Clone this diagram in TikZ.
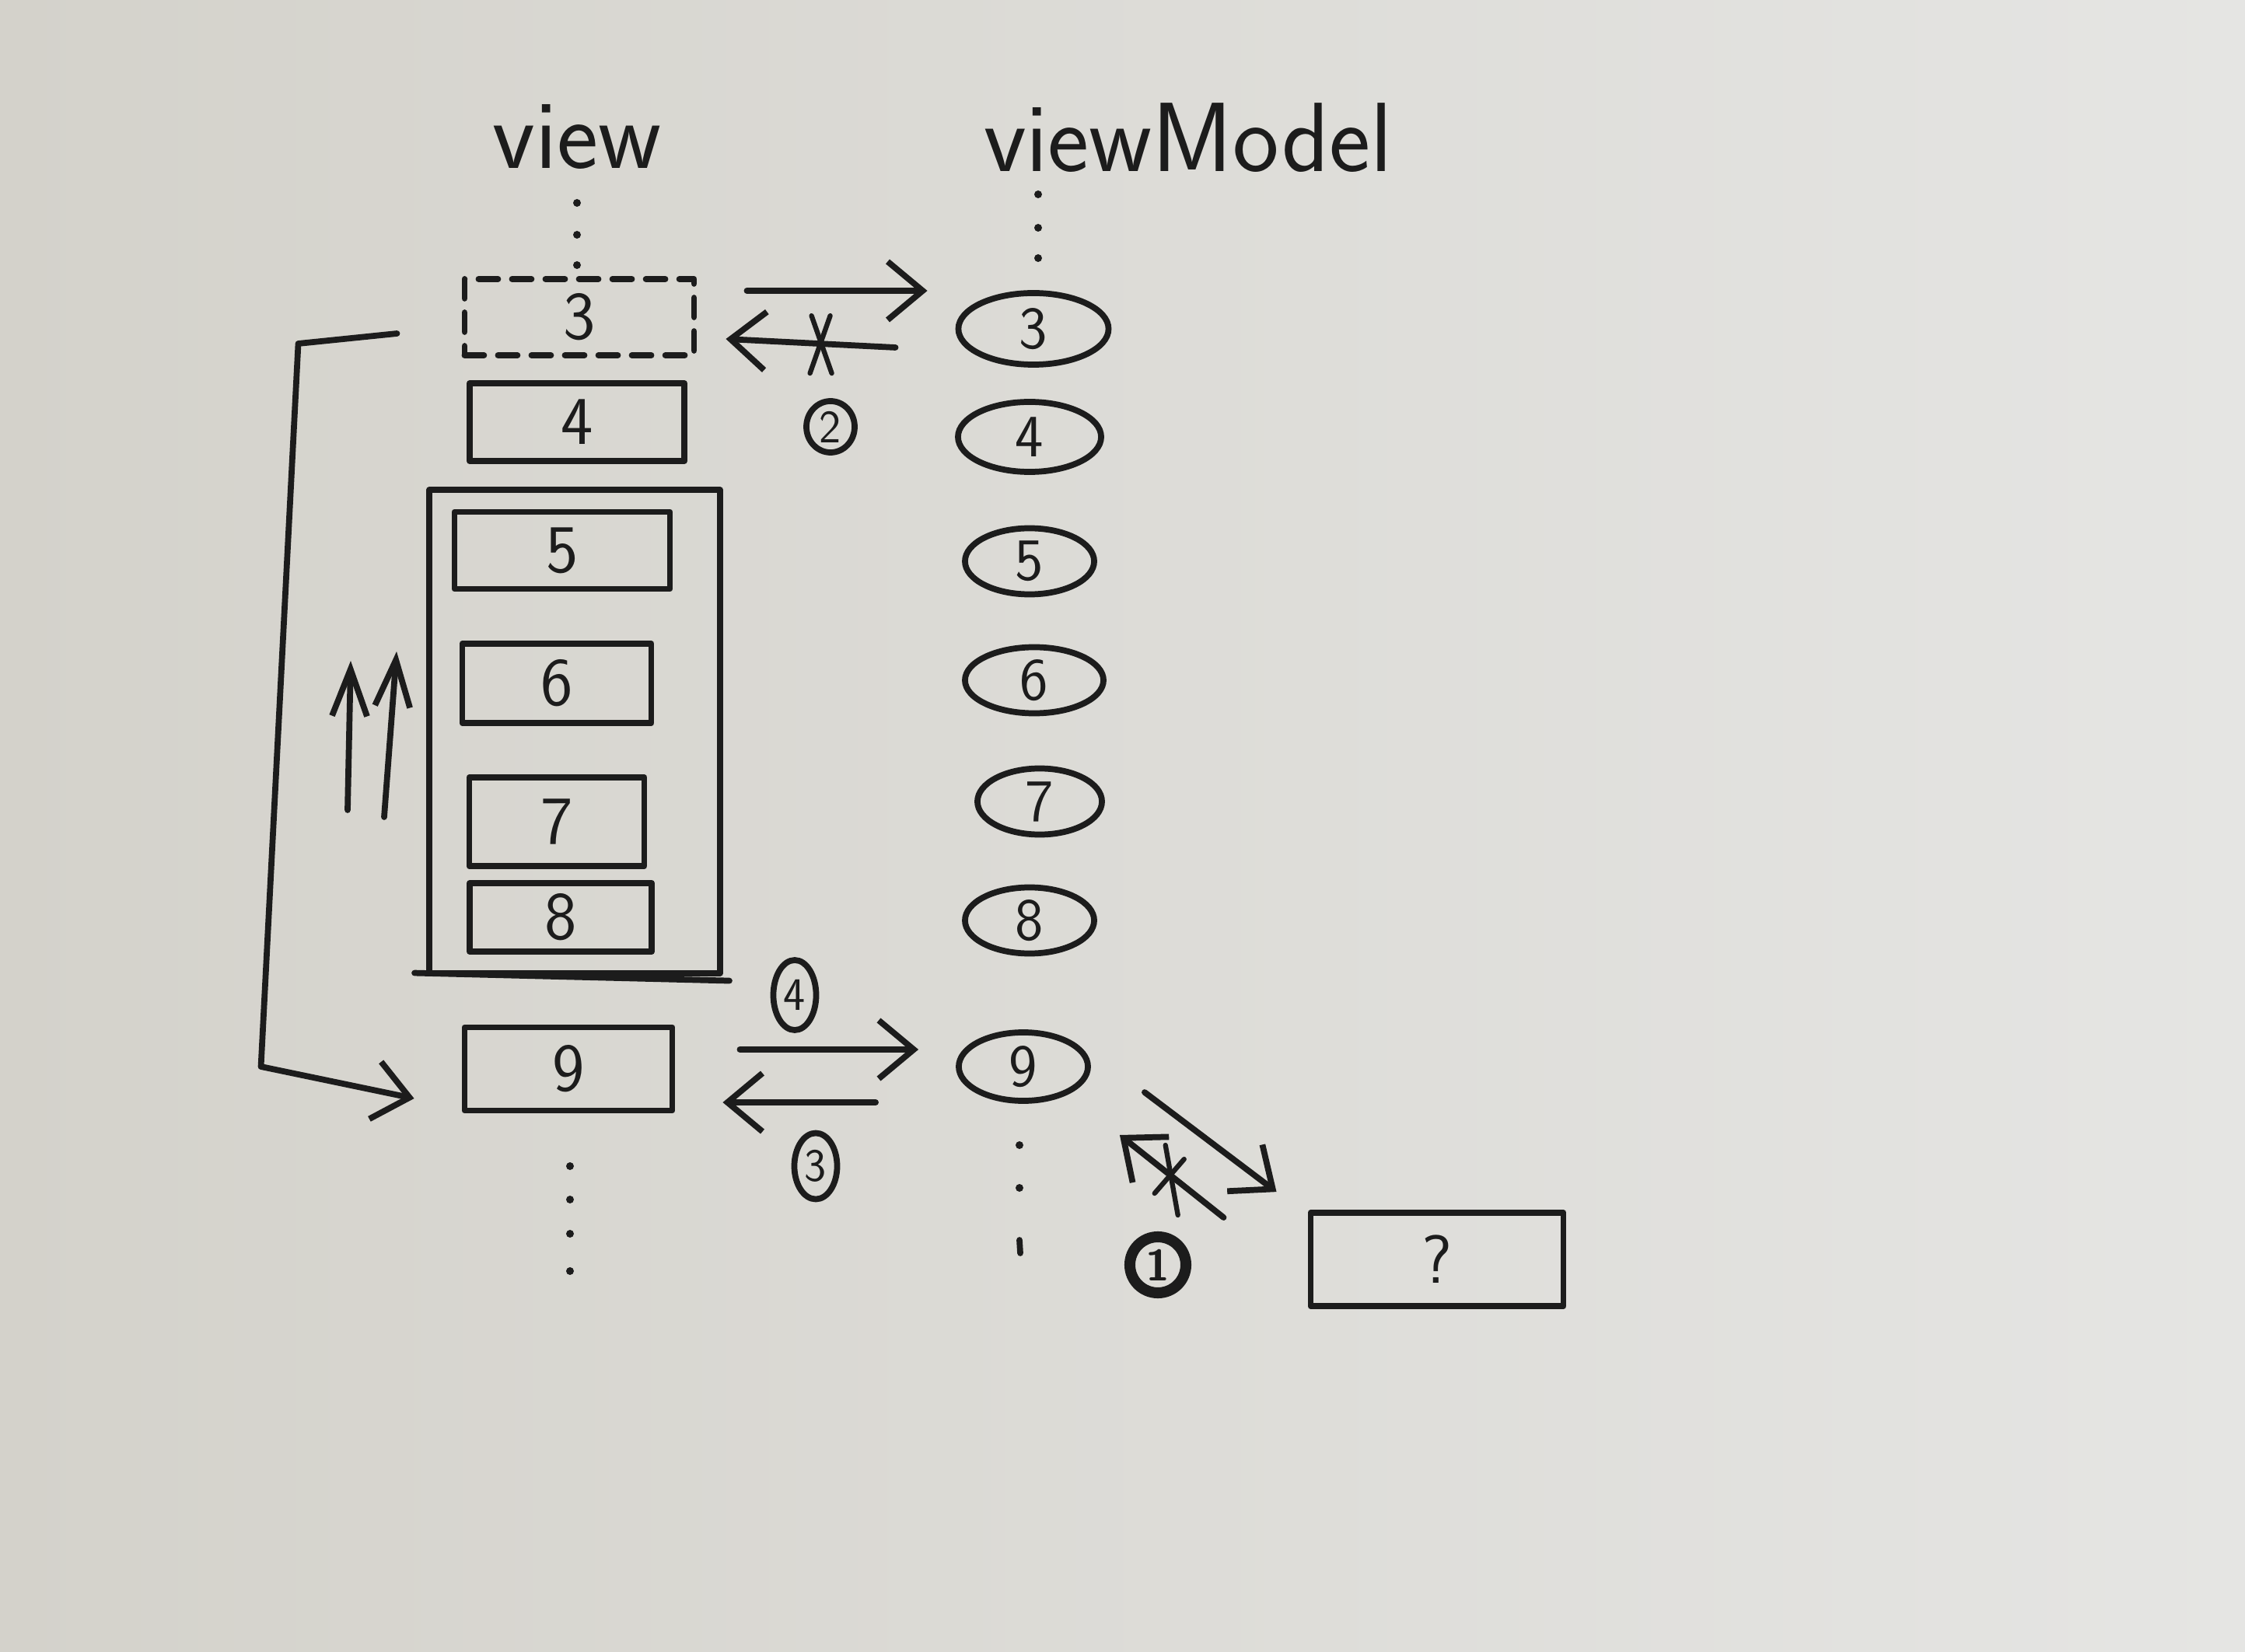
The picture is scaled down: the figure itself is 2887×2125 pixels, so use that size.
\documentclass[tikz,border=0pt]{standalone}
\usetikzlibrary{arrows.meta,shapes.geometric,calc}
\definecolor{ink}{RGB}{28,28,28}
\definecolor{bgl}{RGB}{212,210,203}
\definecolor{bgr}{RGB}{229,229,227}
\begin{document}
\begin{tikzpicture}[x=0.01cm,y=-0.01cm,
  pen/.style={line width=2.2pt,draw=ink,line cap=round,line join=round},
  vbox/.style={pen,rectangle,inner sep=0pt,text=ink,font=\sffamily\fontsize{25}{30}\selectfont},
  vmnode/.style={pen,ellipse,inner sep=0pt,text=ink,font=\sffamily\fontsize{22}{26}\selectfont},
  circ/.style={pen,ellipse,inner sep=0pt,text=ink,font=\sffamily\fontsize{17}{20}\selectfont},
  conn/.style={pen,-{Straight Barb[length=4.5mm,width=7.5mm]}},
  uparrow/.style={pen,-{Straight Barb[length=6mm,width=4.5mm]}},
  crossmark/.style={pen,line width=1.8pt},
  title/.style={anchor=base,text=ink,font=\sffamily\fontsize{36}{40}\selectfont},
  dotmark/.style={fill=ink}]
\useasboundingbox (0,0) rectangle (2887,2125);
\shade[left color=bgl,right color=bgr] (0,0) rectangle (2887,2125);

% titles
\node[title] (tview) at (742,217) {view};
\node[title] (tvm) at (1528,221) {viewModel};

% view column
\node[vbox,dash pattern=on 0.25cm off 0.18cm,minimum width=2.95cm,minimum height=0.98cm] (v3) at (745,408) {3};
\node[vbox,minimum width=2.76cm,minimum height=1.0cm] (v4) at (742,543) {4};
\node[pen,rectangle,minimum width=3.74cm,minimum height=6.21cm,inner sep=0pt] (outer) at (739,941) {};
\node[vbox,minimum width=2.77cm,minimum height=0.99cm] (v5) at (723,708) {5};
\node[vbox,minimum width=2.43cm,minimum height=1.02cm] (v6) at (716,879) {6};
\node[vbox,minimum width=2.25cm,minimum height=1.14cm] (v7) at (716,1057) {7};
\node[vbox,minimum width=2.34cm,minimum height=0.88cm] (v8) at (721,1180) {8};
\node[vbox,minimum width=2.67cm,minimum height=1.07cm] (v9) at (731,1375) {9};
\draw[pen] ($(outer.south west)+(-15,-4)$) -- ($(outer.south east)+(8,6)$);

% viewModel column
\node[vmnode,minimum width=1.93cm,minimum height=0.92cm] (m3) at (1329,423) {3};
\node[vmnode,minimum width=1.84cm,minimum height=0.9cm] (m4) at (1324,562) {4};
\node[vmnode,minimum width=1.66cm,minimum height=0.85cm] (m5) at (1324,722) {5};
\node[vmnode,minimum width=1.78cm,minimum height=0.85cm] (m6) at (1330,875) {6};
\node[vmnode,minimum width=1.6cm,minimum height=0.85cm] (m7) at (1337,1031) {7};
\node[vmnode,minimum width=1.66cm,minimum height=0.85cm] (m8) at (1324,1184) {8};
\node[vmnode,minimum width=1.66cm,minimum height=0.88cm] (m9) at (1316,1372) {9};

% unknown box
\node[vbox,minimum width=3.25cm,minimum height=1.2cm] (q) at (1848,1620) {?};

% dots
\foreach \y in {261,302,341} \fill[dotmark] (742,\y) circle (5);
\foreach \y in {250,293,332} \fill[dotmark] (1335,\y) circle (5);
\foreach \y in {1500,1543,1587,1635} \fill[dotmark] (733,\y) circle (5);
\foreach \y in {1473,1528} \fill[dotmark] (1311,\y) circle (5);
\draw[pen] (1311,1595) -- (1312,1612);

% top arrows
\draw[conn] ($(v3.east)+(64,-34)$) -- ($(m3.west)+(-36,-49)$);
\coordinate (tlA) at ($(m3.west)+(-77,24)$);
\coordinate (tlB) at ($(v3.east)+(37,28)$);
\draw[conn] (tlA) -- (tlB);
\coordinate (x1) at ($(tlA)!0.44!(tlB)$);
\draw[crossmark] ($(x1)+(-12,-36)$) -- ($(x1)+(14,38)$);
\draw[crossmark] ($(x1)+(12,-36)$) -- ($(x1)+(-14,38)$);
\node[circ,minimum width=0.62cm,minimum height=0.66cm] (c2) at (1068,549) {2};

% bottom arrows
\draw[conn] ($(v9.east)+(83,-25)$) -- ($(m9.west)+(-48,-22)$);
\draw[conn] ($(m9.west)+(-103,46)$) -- ($(v9.east)+(61,43)$);
\node[circ,minimum width=0.55cm,minimum height=0.9cm] (c4) at (1022,1280) {4};
\node[circ,minimum width=0.55cm,minimum height=0.85cm] (c3) at (1049,1500) {3};

% diagonal arrows
\draw[conn] ($(m9.east)+(69,33)$) -- ($(q.north west)+(-40,-23)$);
\coordinate (dA) at ($(q.north west)+(-108,10)$);
\coordinate (dB) at ($(m9.east)+(37,88)$);
\draw[conn] (dA) -- (dB);
\coordinate (x2) at ($(dA)!0.5!(dB)$);
\draw[crossmark] ($(x2)+(-8,-40)$) -- ($(x2)+(8,50)$);
\draw[crossmark] ($(x2)+(-22,22)$) -- ($(x2)+(16,-22)$);
\node[circ,line width=4pt,minimum width=0.72cm,minimum height=0.72cm,font=\sffamily\bfseries\fontsize{16}{18}\selectfont] (c1) at (1489,1627) {1};

% long return connector
\draw[conn] ($(v3.west)+(-83,21)$) -- ($(v3.west)+(-210,34)$) -- ($(v9.west)+(-258,-3)$) -- ($(v9.west)+(-61,38)$);

% scroll-up arrows
\coordinate (u1s) at (447,1042);
\coordinate (u1e) at (451,850);
\coordinate (u2s) at (494,1051);
\coordinate (u2e) at (510,838);
\draw[uparrow] (u1s) -- (u1e);
\draw[uparrow] (u2s) -- (u2e);
\end{tikzpicture}
\end{document}
